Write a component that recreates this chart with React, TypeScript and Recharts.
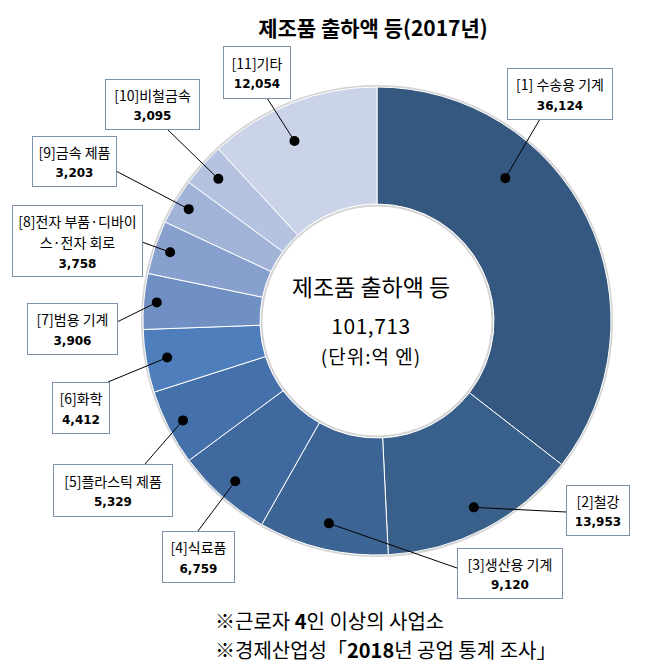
import { PieChart, Pie, Cell } from 'recharts';

const CATEGORIES = [
  '[1] 수송용 기계',
  '[2]철강',
  '[3]생산용 기계',
  '[4]식료품',
  '[5]플라스틱 제품',
  '[6]화학',
  '[7]범용 기계',
  '[8]전자 부품·디바이\n스·전자 회로',
  '[9]금속 제품',
  '[10]비철금속',
  '[11]기타',
];

const VALUES = [36124, 13953, 9120, 6759, 5329, 4412, 3906, 3758, 3203, 3095, 12054];

const COLORS = [
  '#34587f', '#395f8b', '#3c6495', '#406a9f', '#4571ab', '#4e7ebb',
  '#7090c4', '#88a0ce', '#a2b3d8', '#b6c3e0', '#cad3e7',
];

// label boxes: x, y, w, h, leader line anchor (ax, ay), dot radius, dot angle shift
const BOXES = [
  { x: 507, y: 68, w: 105, h: 51, ax: 540, ay: 119, dotR: 192, shift: 22 },
  { x: 566, y: 485, w: 63, h: 50, ax: 566, ay: 512, dotR: 210, shift: 0 },
  { x: 457, y: 548, w: 105, h: 50, ax: 457, ay: 568, dotR: 208, shift: 0 },
  { x: 162, y: 531, w: 72, h: 51, ax: 198, ay: 531, dotR: 214, shift: 0 },
  { x: 53, y: 464, w: 119, h: 52, ax: 145, ay: 464, dotR: 218, shift: 0 },
  { x: 52, y: 382, w: 57, h: 51, ax: 108, ay: 382, dotR: 213, shift: 0 },
  { x: 27, y: 303, w: 90, h: 51, ax: 117, ay: 322, dotR: 221, shift: 0 },
  { x: 12, y: 205, w: 130, h: 71, ax: 142, ay: 242, dotR: 218, shift: 0 },
  { x: 32, y: 136, w: 84, h: 50, ax: 116, ay: 171, dotR: 219, shift: 0 },
  { x: 105, y: 79, w: 94, h: 50, ax: 167, ay: 129, dotR: 213, shift: 0 },
  { x: 223, y: 46, w: 67, h: 52, ax: 267, ay: 98, dotR: 198, shift: 3.3 },
];

const data = CATEGORIES.map((name, i) => ({ name, value: VALUES[i] }));
const TOTAL = VALUES.reduce((a, b) => a + b, 0);

const CX = 377;
const CY = 321;
const RAD = Math.PI / 180;
const KR = '"Noto Sans CJK KR", "Noto Sans", sans-serif';

function renderLabel(props: any) {
  const { cx, cy, midAngle, index } = props;
  const b = BOXES[index];
  const ang = (midAngle + b.shift) * RAD;
  const dx = cx + Math.cos(-ang) * b.dotR;
  const dy = cy + Math.sin(-ang) * b.dotR;
  const lines = [...data[index].name.split('\n'), data[index].value.toLocaleString('en-US')];
  const gap = 21.5;
  const first = b.y + (b.h - (lines.length - 1) * gap) / 2 + 1.5;
  return (
    <g key={`lbl-${index}`}>
      <line x1={dx} y1={dy} x2={b.ax} y2={b.ay} stroke="#000" strokeWidth={1} />
      <circle cx={dx} cy={dy} r={5} fill="#000" />
      <rect x={b.x + 0.5} y={b.y + 0.5} width={b.w} height={b.h} fill="#fff" stroke="#7d91ab" strokeWidth={1} />
      {lines.map((t, j) => {
        const isVal = j === lines.length - 1;
        return (
          <text
            key={j}
            x={b.x + b.w / 2 + 0.5}
            y={first + j * gap}
            textAnchor="middle"
            dominantBaseline="central"
            fontFamily={isVal ? '"DejaVu Sans", sans-serif' : KR}
            fontWeight={isVal ? 700 : 400}
            fontSize={isVal ? 12 : 14}
            fill="#000"
          >
            {t}
          </text>
        );
      })}
    </g>
  );
}

export default function App() {
  return (
    <div style={{ position: 'absolute', left: 0, top: 0, width: 653, height: 669, background: '#fff' }}>
      <svg width={653} height={669} style={{ position: 'absolute', left: 0, top: 0 }}>
        <circle cx={CX} cy={CY} r={234.5} fill="none" stroke="#d4d4d4" strokeWidth={3} />
        <circle cx={CX} cy={CY} r={115.5} fill="none" stroke="#d4d4d4" strokeWidth={2} />
      </svg>
      <div style={{ position: 'absolute', left: 0, top: 0 }}>
        <PieChart width={653} height={669} margin={{ top: 0, right: 0, bottom: 0, left: 0 }}>
          <Pie
            data={data}
            dataKey="value"
            nameKey="name"
            cx={CX}
            cy={CY}
            innerRadius={117}
            outerRadius={234}
            startAngle={90}
            endAngle={-270}
            stroke="#ffffff"
            strokeWidth={1}
            label={renderLabel}
            labelLine={false}
            isAnimationActive={false}
          >
            {data.map((_, i) => (
              <Cell key={i} fill={COLORS[i]} />
            ))}
          </Pie>
        </PieChart>
      </div>
      <svg width={653} height={669} style={{ position: 'absolute', left: 0, top: 0, pointerEvents: 'none' }}>
        <text x={373} y={27} textAnchor="middle" dominantBaseline="central" fontFamily={KR} fontWeight={700} fontSize={21} fill="#000">
          제조품 출하액 등(2017년)
        </text>
        <text x={371} y={286} textAnchor="middle" dominantBaseline="central" fontFamily={KR} fontSize={23} fill="#000">
          제조품 출하액 등
        </text>
        <text x={371} y={325} textAnchor="middle" dominantBaseline="central" fontFamily={KR} fontSize={21} letterSpacing={0.5} fill="#000">
          {TOTAL.toLocaleString('en-US')}
        </text>
        <text x={371} y={355} textAnchor="middle" dominantBaseline="central" fontFamily={KR} fontSize={19} letterSpacing={1} fill="#000">
          (단위:억 엔)
        </text>
        <text x={215} y={620} dominantBaseline="central" fontFamily={KR} fontSize={20} fill="#000">
          ※근로자 <tspan fontWeight={700}>4</tspan>인 이상의 사업소
        </text>
        <text x={215} y={649} dominantBaseline="central" fontFamily={KR} fontSize={20} fill="#000">
          ※경제산업성「<tspan fontWeight={700}>2018</tspan>년 공업 통계 조사」
        </text>
      </svg>
    </div>
  );
}
